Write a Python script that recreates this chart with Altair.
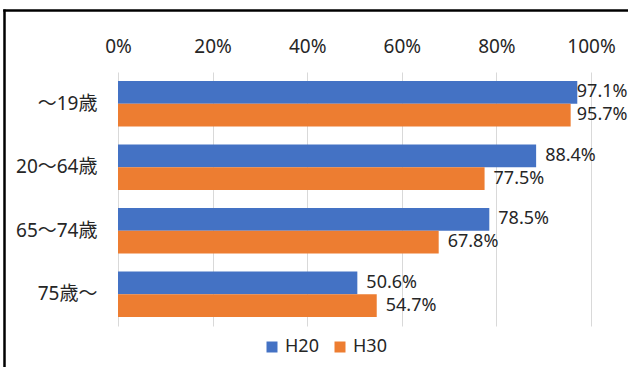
import altair as alt
import pandas as pd

# Share of age group, by survey year (%)
ages = ["〜19歳", "20〜64歳", "65〜74歳", "75歳〜"]
years = ["H20", "H30"]
h20 = [97.1, 88.4, 78.5, 50.6]
h30 = [95.7, 77.5, 67.8, 54.7]
colors = ["#4472C4", "#ED7D31"]

rows = []
for a, v1, v2 in zip(ages, h20, h30):
    rows.append({"age": a, "year": "H20", "value": v1})
    rows.append({"age": a, "year": "H30", "value": v2})
df = pd.DataFrame(rows)

FONT = "Noto Sans, Noto Sans CJK JP"
TEXT = "#262626"

base = alt.Chart(df).encode(
    y=alt.Y(
        "age:N",
        sort=ages,
        title=None,
        scale=alt.Scale(paddingInner=0.28, paddingOuter=0.14),
        axis=alt.Axis(
            domain=False, ticks=False, tickSize=0, labelPadding=21,
            labelFontSize=19, labelColor=TEXT, labelFont=FONT,
        ),
    ),
    yOffset=alt.YOffset("year:N", sort=years, scale=alt.Scale(paddingInner=0, paddingOuter=0)),
)

bars = base.mark_bar().encode(
    x=alt.X(
        "value:Q",
        scale=alt.Scale(domain=[0, 100], nice=False),
        title=None,
        axis=alt.Axis(
            orient="top", values=[0, 20, 40, 60, 80, 100],
            labelExpr="datum.value + '%'",
            domain=False, ticks=False, tickSize=0,
            labelPadding=26, labelBaseline="middle",
            labelFlush=False, labelOverlap=False, labelBound=False,
            labelFontSize=19, labelColor=TEXT, labelFont=FONT,
            grid=True, gridColor="#D9D9D9", gridWidth=1,
        ),
    ),
    color=alt.Color(
        "year:N",
        sort=years,
        scale=alt.Scale(domain=years, range=colors),
        legend=alt.Legend(
            title=None, orient="none", direction="horizontal",
            legendX=145, legendY=266,
            symbolType="square", symbolSize=121, symbolStrokeWidth=0,
            labelFontSize=18, labelColor=TEXT, labelFont=FONT,
            labelOffset=4, columnPadding=12, padding=0,
        ),
    ),
)

# value labels, kept inside the frame on the right
labels = base.transform_calculate(
    pos="min(datum.value, 95.1)",
    txt="format(datum.value, '.1f') + '%'",
).mark_text(
    align="left", baseline="middle", dx=9, fontSize=18, font=FONT, color=TEXT,
).encode(
    x=alt.X("pos:Q"),
    text="txt:N",
)

frame_df = pd.DataFrame({"k": [0]})
left_edge = alt.Chart(frame_df).mark_rule(color="black", strokeWidth=2.5).encode(
    x=alt.value(-113.5), y=alt.value(-62.5), y2=alt.value(310)
)
top_edge = alt.Chart(frame_df).mark_rule(color="black", strokeWidth=2.5).encode(
    x=alt.value(-114.75), x2=alt.value(520), y=alt.value(-61.5)
)

chart = alt.layer(bars, labels, left_edge, top_edge).properties(
    width=473, height=254,
    autosize=alt.AutoSizeParams(type="none"),
    padding={"left": 118, "top": 72, "right": 37, "bottom": 41},
    background="white",
).configure_view(strokeWidth=0)

chart.save("out.html", embed_options={"renderer": "svg", "actions": False})
